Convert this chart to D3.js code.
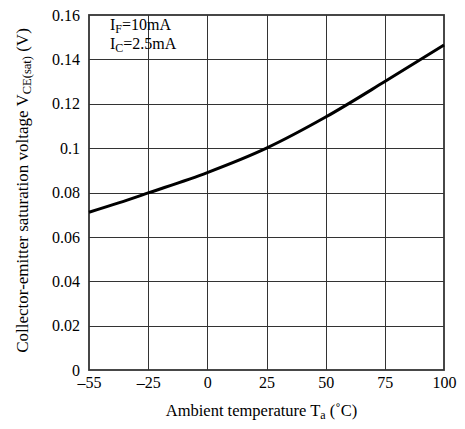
<!DOCTYPE html>
<html>
<head>
<meta charset="utf-8">
<script src="https://cdn.jsdelivr.net/npm/d3@7"></script>
<style>
  body { margin: 0; background: #fff; }
  text { font-family: "Liberation Serif", "Times New Roman", serif; fill: #000; }
</style>
</head>
<body>
<svg></svg>
<script>
// VCE(sat) vs ambient temperature
var temps = [-55, -40, -25, 0, 25, 50, 75, 100];
var vce = [0.0711, 0.0753, 0.0798, 0.0890, 0.1000, 0.1140, 0.1300, 0.1465];
var xTicks = [-55, -25, 0, 25, 50, 75, 100];
var yTicks = [0, 0.02, 0.04, 0.06, 0.08, 0.1, 0.12, 0.14, 0.16];
var yTickLabels = ["0", "0.02", "0.04", "0.06", "0.08", "0.1", "0.12", "0.14", "0.16"];

var width = 465;
var height = 429;
// plot box (note: "top" is a reserved window property, so use other names)
var pLeft = 89, pRight = 444, pTop = 15, pBottom = 370;

var svg = d3.select("svg")
      .attr("width", width)
      .attr("height", height);

// the first column (-55..-25) is drawn as wide as the others
var colW = (pRight - pLeft) / 6;
var xScale = d3.scaleLinear()
      .domain([-55, -25, 100])
      .range([pLeft, pLeft + colW, pRight]);
var yScale = d3.scaleLinear()
      .domain([0, 0.16])
      .range([pBottom, pTop]);

// grid
var grid = svg.append("g").attr("stroke", "#333").attr("stroke-width", 1);
grid.selectAll(".vx").data(xTicks.slice(1, -1)).enter().append("line")
      .attr("x1", d => Math.round(xScale(d)) + 0.5).attr("x2", d => Math.round(xScale(d)) + 0.5)
      .attr("y1", pTop).attr("y2", pBottom);
grid.selectAll(".hy").data(yTicks.slice(1, -1)).enter().append("line")
      .attr("x1", pLeft).attr("x2", pRight)
      .attr("y1", d => Math.round(yScale(d)) + 0.5).attr("y2", d => Math.round(yScale(d)) + 0.5);

// frame
svg.append("rect")
      .attr("x", pLeft).attr("y", pTop)
      .attr("width", pRight - pLeft).attr("height", pBottom - pTop)
      .attr("fill", "none").attr("stroke", "#333").attr("stroke-width", 1.8);

// axes (labels only, the frame and grid draw the lines)
var xAxis = d3.axisBottom(xScale)
      .tickValues(xTicks)
      .tickSize(0)
      .tickPadding(7)
      .tickFormat(d => d < 0 ? "\u2013" + Math.abs(d) : d);
var gx = svg.append("g").attr("transform", "translate(0," + pBottom + ")").call(xAxis);
var yAxis = d3.axisLeft(yScale)
      .tickValues(yTicks)
      .tickSize(0)
      .tickPadding(9)
      .tickFormat((d, i) => yTickLabels[i]);
var gy = svg.append("g").attr("transform", "translate(" + pLeft + ",0)").call(yAxis);
[gx, gy].forEach(function(g) {
      g.select(".domain").remove();
      g.selectAll("text")
            .style("font-family", "'Liberation Serif', serif")
            .style("font-size", "16px")
            .attr("fill", "#000");
});

// curve
var line = d3.line()
      .x((d, i) => xScale(temps[i]))
      .y(d => yScale(d))
      .curve(d3.curveMonotoneX);
svg.append("path")
      .datum(vce)
      .attr("d", line)
      .attr("fill", "none")
      .attr("stroke", "#000")
      .attr("stroke-width", 3);

// conditions
var cond = [["F", "=10mA"], ["C", "=2.5mA"]];
cond.forEach(function(c, i) {
      var t = svg.append("text")
            .attr("x", 110).attr("y", 30 + i * 19)
            .style("font-size", "16px");
      t.append("tspan").text("I");
      t.append("tspan").attr("dy", 3).style("font-size", "12px").text(c[0]);
      t.append("tspan").attr("dy", -3).text(c[1]);
});

// axis titles
var xt = svg.append("text")
      .attr("x", (pLeft + pRight) / 2 - 5).attr("y", 416)
      .style("text-anchor", "middle")
      .style("font-size", "16.5px");
xt.append("tspan").text("Ambient temperature T");
xt.append("tspan").attr("dy", 3).style("font-size", "12px").text("a");
xt.append("tspan").attr("dy", -3).text(" (\u02DAC)");

var yt = svg.append("text")
      .attr("transform", "rotate(-90)")
      .attr("x", -(pTop + pBottom) / 2 + 2).attr("y", 28)
      .style("text-anchor", "middle")
      .style("font-size", "17px");
yt.append("tspan").text("Collector-emitter saturation voltage V");
yt.append("tspan").attr("dy", 3).style("font-size", "12.5px").text("CE(sat)");
yt.append("tspan").attr("dy", -3).text(" (V)");
</script>
</body>
</html>
